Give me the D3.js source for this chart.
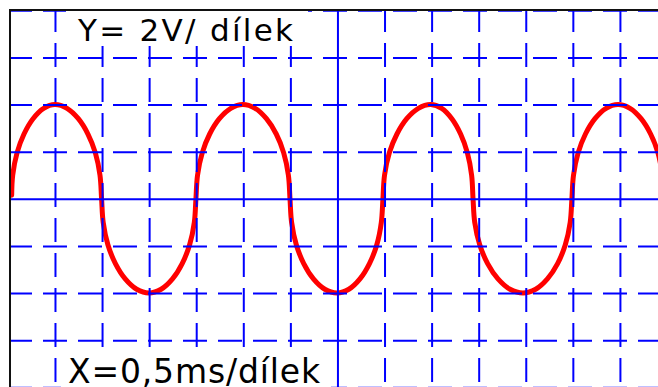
<!DOCTYPE html>
<html>
<head>
<meta charset="utf-8">
<script src="https://cdn.jsdelivr.net/npm/d3@7"></script>
<style>
  html, body { margin: 0; padding: 0; background: #fff; }
  svg { display: block; }
</style>
</head>
<body>
<svg id="scope" width="658" height="387"></svg>
<script>
// Oscilloscope screen: 14 x 8 divisions, 0.5 ms and 2 V per division
const timeGrid = [0, 0.5, 1, 1.5, 2, 2.5, 3, 3.5, 4, 4.5, 5, 5.5, 6, 6.5, 7];   // ms
const voltGrid = [-8, -6, -4, -2, 0, 2, 4, 6, 8];                              // V
const timeCenter = 3.5;
const voltCenter = 0;

const labelY = "Y= 2V/ dílek";
const labelX = "X=0,5ms/dílek";

// Traced waveform, one row per half period: time in ms ...
const traceTime = [
  0.040, 0.051, 0.097, 0.171, 0.267, 0.380, 0.500, 0.628, 0.748, 0.850, 0.929, 0.978,
  0.995, 1.012, 1.062, 1.142, 1.246, 1.368, 1.498, 1.627, 1.748, 1.851, 1.930, 1.980,
  1.997, 2.014, 2.064, 2.143, 2.246, 2.367, 2.496, 2.626, 2.746, 2.850, 2.929, 2.979,
  2.996, 3.013, 3.063, 3.142, 3.245, 3.366, 3.495, 3.621, 3.739, 3.840, 3.918, 3.966,
  3.983, 4.000, 4.051, 4.132, 4.236, 4.359, 4.490, 4.607, 4.715, 4.808, 4.880, 4.925,
  4.940, 4.958, 5.011, 5.095, 5.205, 5.333, 5.470, 5.605, 5.730, 5.838, 5.920, 5.972,
  5.990, 6.007, 6.056, 6.134, 6.235, 6.353, 6.480, 6.607, 6.725, 6.826, 6.904, 6.953
];
// ... and voltage in V
const traceVolt = [
  0.15,  1.0,  1.95,  2.75,  3.4,  3.84,  4.0,  3.84,  3.4,  2.75,  1.95,  1.0,
  0,    -1.0, -1.95, -2.75, -3.4, -3.84, -4.0, -3.84, -3.4, -2.75, -1.95, -1.0,
  0,     1.0,  1.95,  2.75,  3.4,  3.84,  4.0,  3.84,  3.4,  2.75,  1.95,  1.0,
  0,    -1.0, -1.95, -2.75, -3.4, -3.84, -4.0, -3.84, -3.4, -2.75, -1.95, -1.0,
  0,     1.0,  1.95,  2.75,  3.4,  3.84,  4.0,  3.84,  3.4,  2.75,  1.95,  1.0,
  0,    -1.0, -1.95, -2.75, -3.4, -3.84, -4.0, -3.84, -3.4, -2.75, -1.95, -1.0,
  0,     1.0,  1.95,  2.75,  3.4,  3.84,  4.0,  3.84,  3.4,  2.75,  1.95,  1.0
];

const W = 658, H = 387;
const frameX = 10, frameY = 10;

const x = d3.scaleLinear().domain([0, 7]).range([7.9, 667]);
const y = d3.scaleLinear().domain([8, -8]).range([10.3, 387.3]);

const svg = d3.select("#scope");

svg.append("defs").append("clipPath").attr("id", "screen")
  .append("rect").attr("x", frameX).attr("y", frameY)
  .attr("width", W - frameX).attr("height", H - frameY);

const screen = svg.append("g").attr("clip-path", "url(#screen)");

// waveform
const trace = traceTime.map((t, i) => [t, traceVolt[i]]);
screen.append("path")
  .datum(trace)
  .attr("fill", "none")
  .attr("stroke", "#ff0000")
  .attr("stroke-width", 5)
  .attr("stroke-linecap", "round")
  .attr("stroke-linejoin", "round")
  .attr("d", d3.line()
    .x(d => x(d[0]))
    .y(d => y(d[1]))
    .curve(d3.curveCatmullRom.alpha(0.5)));

// vertical graticule lines
const vAxis = screen.append("g")
  .attr("transform", "translate(0,8)")
  .call(d3.axisTop(x).tickValues(timeGrid).tickSize(-(H - 8)).tickFormat(""));
vAxis.select(".domain").remove();
vAxis.selectAll(".tick line")
  .attr("stroke", "#0000ff")
  .attr("stroke-width", 2)
  .attr("stroke-dasharray", d => d === timeCenter ? null : "24 11");

// horizontal graticule lines
const hAxis = screen.append("g")
  .attr("transform", "translate(8,0)")
  .call(d3.axisLeft(y).tickValues(voltGrid).tickSize(-(W + 20)).tickFormat(""));
hAxis.select(".domain").remove();
hAxis.selectAll(".tick line")
  .attr("stroke", "#0000ff")
  .attr("stroke-width", 2)
  .attr("stroke-dasharray", d => d === voltCenter ? null : "24 11");

// frame edges
svg.append("line").attr("x1", frameX).attr("x2", W).attr("y1", frameY).attr("y2", frameY)
  .attr("stroke", "#111").attr("stroke-width", 2);
svg.append("line").attr("x1", frameX).attr("x2", frameX).attr("y1", frameY - 1).attr("y2", H)
  .attr("stroke", "#111").attr("stroke-width", 2);

// scale captions on white panels
svg.append("rect").attr("x", 66).attr("y", 11).attr("width", 242).attr("height", 35).attr("fill", "#fff");
svg.append("text")
  .attr("x", 78).attr("y", 41)
  .attr("font-family", "DejaVu Sans, sans-serif")
  .attr("font-size", 31)
  .attr("textLength", 215)
  .attr("lengthAdjust", "spacing")
  .attr("fill", "#000")
  .text(labelY);

svg.append("rect").attr("x", 61).attr("y", 348).attr("width", 270).attr("height", 39).attr("fill", "#fff");
svg.append("text")
  .attr("x", 68).attr("y", 383)
  .attr("font-family", "DejaVu Sans, sans-serif")
  .attr("font-size", 33)
  .attr("textLength", 252)
  .attr("lengthAdjust", "spacing")
  .attr("fill", "#000")
  .text(labelX);
</script>
</body>
</html>
